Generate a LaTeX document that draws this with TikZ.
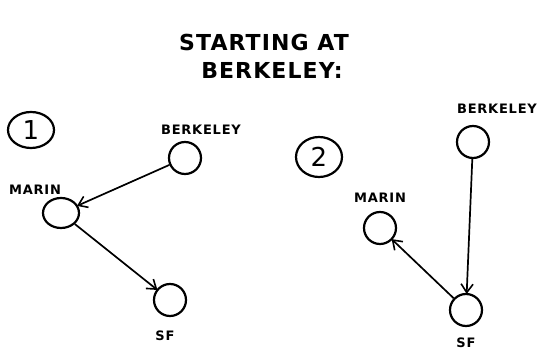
\documentclass[tikz,border=0pt]{standalone}
\usepackage{fontspec}
\setmainfont{DejaVu Sans}
\usetikzlibrary{arrows.meta,positioning,shapes.geometric}
\tikzset{
  >={Straight Barb[length=3mm,width=4.2mm,line width=1.6pt]},
  city/.style={draw,circle,line width=2.2pt,minimum size=32pt,inner sep=0pt},
  num/.style={draw,ellipse,line width=2.2pt,inner sep=0pt,font=\fontsize{26}{28}\selectfont},
  lab/.style={font=\bfseries\fontsize{13}{14}\selectfont\addfontfeatures{LetterSpace=6}},
  ttl/.style={font=\bfseries\fontsize{22}{24}\selectfont\addfontfeatures{LetterSpace=5}},
  arr/.style={->,line width=1.7pt,shorten >=-1pt},
}
\begin{document}
\begin{tikzpicture}[x=1pt,y=-1pt]
\useasboundingbox (0,0) rectangle (546,352);
% title
\node[ttl] (t1) at (264,42) {STARTING AT};
\node[ttl] (t2) at (272,70) {BERKELEY:};
% first step
\node[num,minimum width=46pt,minimum height=36pt] (n1) at (31,130) {1};
\node[city] (b1) at (185,158) {};
\node[city,ellipse,minimum width=36pt,minimum height=30pt] (m1) at (61,213) {};
\node[city] (s1) at (170,300) {};
\node[lab] (lb1) at (201,130) {BERKELEY};
\node[lab] (lm1) at (35,190) {MARIN};
\node[lab] (ls1) at (165,336) {SF};
\draw[arr] (b1) -- (m1);
\draw[arr] (m1) -- (s1);
% second step
\node[num,minimum width=46pt,minimum height=40pt] (n2) at (319,157) {2};
\node[city] (b2) at (473,142) {};
\node[city] (m2) at (380,228) {};
\node[city] (s2) at (466,310) {};
\node[lab] (lb2) at (497,109) {BERKELEY};
\node[lab] (lm2) at (380,198) {MARIN};
\node[lab] (ls2) at (466,343) {SF};
\draw[arr] (b2) -- (s2);
\draw[arr] (s2) -- (m2);
\end{tikzpicture}
\end{document}
